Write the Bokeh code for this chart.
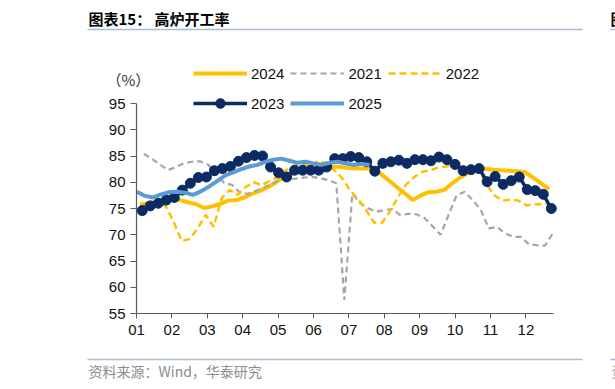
from bokeh.plotting import figure
from bokeh.models import Range1d, FixedTicker, Legend, LegendItem, Label, BoxAnnotation
from bokeh.embed import file_html
from bokeh.resources import INLINE

# ---------------- data ----------------
month_labels = ["01", "02", "03", "04", "05", "06", "07", "08", "09", "10", "11", "12"]
y_ticks = [55, 60, 65, 70, 75, 80, 85, 90, 95]

week_step = 0.2266  # one week, in month units of the x axis

start_2021 = 0.206
v2021 = [85.4, 84.5, 83.4, 82.3, 82.9, 83.6, 83.9, 84.0, 83.4, 81.7,
         79.9, 79.5, 78.0, 77.8, 78.4, 79.0, 79.8, 80.5, 80.6, 80.7,
         80.9, 81.0, 80.8, 80.4, 79.8, 57.6, 77.8, 76.0, 75.0, 74.4,
         74.7, 74.9, 73.7, 74.0, 73.9, 73.2, 71.6, 70.0, 73.8, 77.5,
         78.2, 76.6, 74.8, 71.2, 71.5, 70.3, 69.6, 69.6, 68.2, 68.0,
         67.9, 70.3]

start_2022 = 0.141
v2022 = [75.5, 76.0, 76.3, 75.5, 72.5, 68.8, 69.2, 71.2, 73.8, 71.5,
         77.0, 78.5, 77.6, 79.1, 80.0, 79.4, 80.3, 81.0, 82.3, 83.0,
         83.6, 83.0, 84.1, 83.5, 82.4, 80.8, 78.5, 76.8, 74.7, 72.3,
         72.3, 74.5, 77.2, 79.6, 81.0, 82.0, 82.3, 82.8, 83.0, 83.2,
         83.0, 82.8, 82.3, 79.6, 77.5, 76.5, 76.7, 76.5, 75.6, 75.8,
         75.8, 75.8]

start_2023 = 0.161
v2023 = [74.6, 75.5, 76.0, 76.6, 77.1, 78.5, 79.8, 80.9, 81.0, 82.2,
         82.6, 83.0, 84.0, 84.7, 85.1, 85.0, 82.9, 81.8, 81.0, 82.3,
         82.3, 82.3, 82.3, 82.9, 84.5, 84.5, 84.9, 84.7, 83.9, 82.1,
         83.6, 83.9, 84.2, 83.6, 84.3, 84.3, 84.1, 84.8, 84.3, 83.4,
         82.2, 82.4, 82.6, 80.1, 81.1, 79.6, 80.3, 81.0, 78.6, 78.4,
         77.7, 75.0]

start_2024 = 0.099
v2024 = [75.7, 76.0, 76.3, 76.5, 76.6, 76.6, 76.2, 75.8, 75.1, 75.4,
         75.9, 76.5, 76.6, 77.1, 77.8, 78.4, 79.1, 80.0, 81.2, 81.6,
         82.0, 82.5, 83.4, 83.5, 83.0, 82.9, 82.7, 82.6, 82.6, 82.6,
         81.6, 80.4, 79.1, 77.9, 76.6, 77.5, 78.1, 78.2, 78.6, 79.9,
         81.0, 81.8, 82.3, 82.6, 82.4, 82.3, 82.2, 82.1, 81.9, 80.9,
         79.8, 78.7]

start_2025 = 0.014
v2025 = [78.2, 77.4, 77.1, 77.7, 78.1, 78.2, 78.0, 77.6, 78.3, 79.2,
         80.2, 81.3, 81.9, 82.5, 83.0, 83.3, 83.9, 84.3, 84.5, 84.1,
         83.7, 83.9, 83.6, 83.3, 83.7, 83.9, 83.6, 83.3, 83.5, 83.3]


def weeks(start, values):
    return [start + i * week_step for i in range(len(values))]


YELLOW = "#FFC000"
GRAY = "#A5A5A5"
NAVY = "#0C2B64"
LBLUE = "#5B9BD5"
AXIS = "#595959"
RULE = "#A9BCD0"
FONT = "Liberation Sans"
CJK = "Noto Sans CJK SC"

# ---------------- layout (canvas pixels) ----------------
W, H = 615, 389
AX_X0 = 136          # canvas x of month 0 (y axis)
PX_MONTH = 35.4      # pixels per month
AX_YTOP = 103        # canvas y of value 95
PX_UNIT = 5.25       # pixels per percentage point
X_END = 11.78        # end of the x axis, months

x0 = -AX_X0 / PX_MONTH
x1 = (W - AX_X0) / PX_MONTH
y1 = 95 + AX_YTOP / PX_UNIT
y0 = y1 - H / PX_UNIT

p = figure(width=W, height=H, output_backend="svg", toolbar_location=None,
           x_range=Range1d(x0, x1), y_range=Range1d(y0, y1),
           min_border=0)
p.outline_line_color = None
p.xgrid.visible = False
p.ygrid.visible = False
p.background_fill_color = "white"
p.border_fill_color = "white"

r24 = p.line(weeks(start_2024, v2024), v2024, line_color=YELLOW, line_width=4)
r21 = p.line(weeks(start_2021, v2021), v2021, line_color=GRAY, line_width=2.2, line_dash="6 4")
r22 = p.line(weeks(start_2022, v2022), v2022, line_color=YELLOW, line_width=2.5, line_dash="7 4")
r23l = p.line(weeks(start_2023, v2023), v2023, line_color=NAVY, line_width=3.5)
r23m = p.scatter(weeks(start_2023, v2023), v2023, size=10, fill_color=NAVY, line_color=NAVY)
r25 = p.line(weeks(start_2025, v2025), v2025, line_color=LBLUE, line_width=4)

# axes, fixed inside the canvas-wide frame
xa = p.xaxis[0]
xa.ticker = FixedTicker(ticks=list(range(12)))
xa.major_label_overrides = {i: lab for i, lab in enumerate(month_labels)}
xa.fixed_location = 55
xa.bounds = (0, X_END)
ya = p.yaxis[0]
ya.ticker = FixedTicker(ticks=y_ticks)
ya.fixed_location = 0
ya.bounds = (55, 95)
for ax in (xa, ya):
    ax.axis_line_color = AXIS
    ax.axis_line_width = 1.2
    ax.major_tick_line_color = AXIS
    ax.major_tick_in = 0
    ax.minor_tick_line_color = None
    ax.major_label_text_font = FONT
    ax.major_label_text_font_size = "15px"
    ax.major_label_text_color = "#111111"
xa.major_tick_out = 5
xa.major_label_standoff = 6
ya.major_tick_out = 6
ya.major_label_standoff = 5

# screen coordinates below are measured from the canvas bottom-left
legend = Legend(items=[
    LegendItem(label="2024", renderers=[r24]),
    LegendItem(label="2021", renderers=[r21]),
    LegendItem(label="2022", renderers=[r22]),
    LegendItem(label="2023", renderers=[r23l, r23m]),
    LegendItem(label="2025", renderers=[r25]),
], location=(193, 274), orientation="horizontal", ncols=3,
    glyph_width=54, glyph_height=24, label_height=24, label_standoff=4,
    spacing=6, padding=0, margin=0,
    border_line_color=None, background_fill_alpha=0,
    label_text_font=FONT, label_text_font_size="15px", label_text_color="#111111")
p.add_layout(legend, "center")

p.add_layout(Label(x=88, y=371, x_units="screen", y_units="screen",
                   text="图表15：  高炉开工率", text_font=CJK, text_font_style="bold",
                   text_font_size="15px", text_color="#000000", text_baseline="middle"))
p.add_layout(Label(x=106, y=310, x_units="screen", y_units="screen",
                   text="（%）", text_font=CJK, text_font_size="15px",
                   text_color="#333333", text_baseline="middle"))
p.add_layout(Label(x=88, y=19, x_units="screen", y_units="screen",
                   text="资料来源：Wind，华泰研究", text_font=CJK,
                   text_font_size="14px", text_color="#8C8C8C", text_baseline="middle"))
p.add_layout(Label(x=610, y=371, x_units="screen", y_units="screen",
                   text="图", text_font=CJK, text_font_style="bold",
                   text_font_size="15px", text_color="#000000", text_baseline="middle"))
p.add_layout(Label(x=611, y=19, x_units="screen", y_units="screen",
                   text="资", text_font=CJK,
                   text_font_size="14px", text_color="#A0A0A0", text_baseline="middle"))

for (l, r, t) in [(87, 582, 360.8), (610, 618, 360.8), (87, 582, 30.8), (610, 618, 30.8)]:
    p.add_layout(BoxAnnotation(left=l, right=r, top=t, bottom=t - 1.6,
                               left_units="screen", right_units="screen",
                               top_units="screen", bottom_units="screen",
                               fill_color=RULE, fill_alpha=1, line_color=None))

open("out.html", "w").write(file_html(p, INLINE))
